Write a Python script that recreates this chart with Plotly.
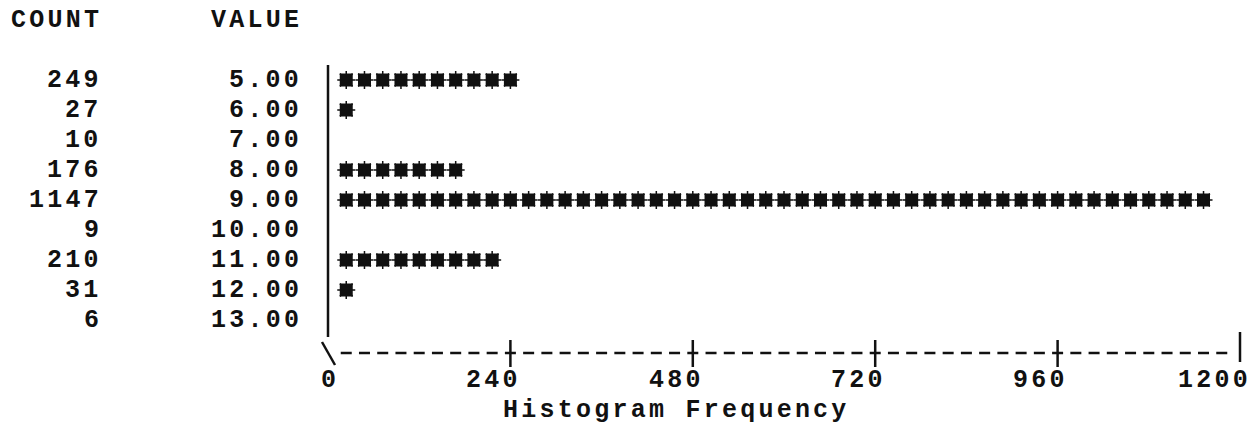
import plotly.graph_objects as go

# Frequency table: each row is one observed value and how many cases had it
values = [5.0, 6.0, 7.0, 8.0, 9.0, 10.0, 11.0, 12.0, 13.0]
counts = [249, 27, 10, 176, 1147, 9, 210, 31, 6]
tick_values = [0, 240, 480, 720, 960, 1200]
tick_labels = ["0", "240", "480", "720", "960", "1200"]
cases_per_symbol = 24          # one printed symbol stands for 24 cases
axis_title = "Histogram Frequency"

FONT = "Liberation Mono"
FSIZE = 25
PITCH_PX = 18.24               # printer character pitch
LSPACE = PITCH_PX - 0.6 * FSIZE  # extra spacing to widen the monospace pitch
INK = "#111111"

# x axis is in cases: one character column == cases_per_symbol cases
px_per_case = PITCH_PX / cases_per_symbol
x0_px = 328.0
x_range = [-x0_px / px_per_case, (1258 - x0_px) / px_per_case]
# y axis is in printed lines keyed by value: line pitch of 30 px
y_range = [(427 + 70) / 30.0, 70 / 30.0]


def col(c):
    """x position (in cases) of the centre of character column c."""
    return c * cases_per_symbol


def spaced(s):
    return f'<span style="letter-spacing:{LSPACE:.2f}px"><b>{s}</b></span>'


fig = go.Figure()

# histogram symbols
sx, sy = [], []
for v, n in zip(values, counts):
    k = round(n / cases_per_symbol)
    for i in range(1, k + 1):
        sx.append(col(i))
        sy.append(v)

fig.add_trace(go.Scatter(x=sx, y=sy, mode="markers", hoverinfo="skip",
                         marker=dict(symbol="square", size=13, color=INK,
                                     line=dict(width=0))))
fig.add_trace(go.Scatter(x=sx, y=sy, mode="markers", hoverinfo="skip",
                         marker=dict(symbol="asterisk", size=15,
                                     line=dict(width=1.5, color=INK))))

annotations = []


def put(text, c_right, y):
    """Place a right-aligned string whose last character sits in column c_right."""
    n = len(text)
    c_mid = c_right - (n - 1) / 2.0
    annotations.append(dict(
        x=col(c_mid) + (LSPACE / 2) / px_per_case, y=y, xref="x", yref="y",
        text=spaced(text), showarrow=False, xanchor="center", yanchor="middle",
        font=dict(family=FONT, size=FSIZE, color=INK)))


# header line
put("COUNT", -13, 3)
put("VALUE", -2, 3)

# count and value columns
for v, n in zip(values, counts):
    put(str(n), -13, v)
    put(f"{v:.2f}", -2, v)

# tick labels: last digit sits under the tick
axis_line = 14
for t, lab in zip(tick_values, tick_labels):
    put(lab, t / cases_per_symbol, axis_line + 1)

# axis title
put(axis_title, 28, axis_line + 2)

shapes = []
LW = 2.5
# vertical bar on the left of the symbols
shapes.append(dict(type="line", xref="x", yref="y", x0=0, x1=0,
                   y0=(65 + 70) / 30, y1=(337 + 70) / 30,
                   line=dict(color=INK, width=LW)))
# dashed frequency axis
half_dash = 5.5 / px_per_case
shapes.append(dict(type="line", xref="x", yref="y",
                   x0=col(1) - half_dash, x1=col(49) + half_dash,
                   y0=(353 + 70) / 30, y1=(353 + 70) / 30,
                   line=dict(color=INK, width=LW, dash="11px,7.24px")))
# corner backslash at zero
shapes.append(dict(type="line", xref="x", yref="y",
                   x0=-6 / px_per_case, x1=7 / px_per_case,
                   y0=(342 + 70) / 30, y1=(365 + 70) / 30,
                   line=dict(color=INK, width=LW)))
# '+' ticks at interior tick values, '|' at the end
for t in tick_values[1:-1]:
    shapes.append(dict(type="line", xref="x", yref="y", x0=t, x1=t,
                       y0=(340 + 70) / 30, y1=(367 + 70) / 30,
                       line=dict(color=INK, width=LW)))
shapes.append(dict(type="line", xref="x", yref="y",
                   x0=tick_values[-1], x1=tick_values[-1],
                   y0=(332 + 70) / 30, y1=(362 + 70) / 30,
                   line=dict(color=INK, width=LW)))

fig.update_layout(
    width=1258, height=427,
    margin=dict(l=0, r=0, t=0, b=0),
    paper_bgcolor="white", plot_bgcolor="white",
    showlegend=False,
    xaxis=dict(range=x_range, visible=False, fixedrange=True),
    yaxis=dict(range=y_range, visible=False, fixedrange=True),
    annotations=annotations,
    shapes=shapes,
)

fig.write_html("out.html")
